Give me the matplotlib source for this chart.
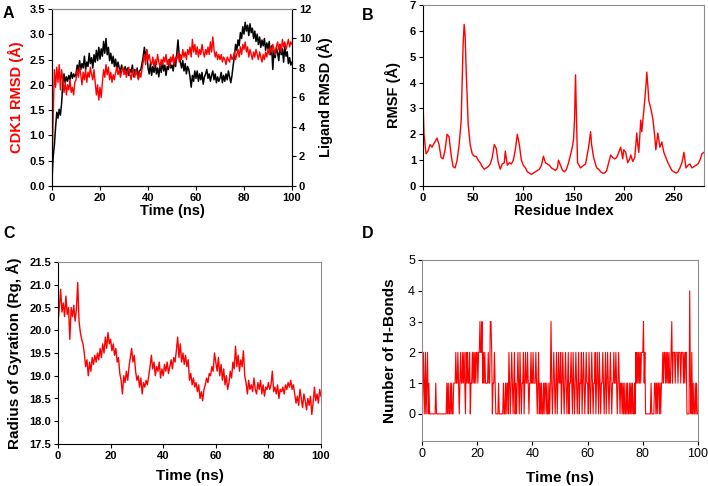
import numpy as np
import matplotlib
matplotlib.use("Agg")
import matplotlib.pyplot as plt

plt.rcParams['font.family'] = ['Liberation Sans', 'DejaVu Sans']

# ---------------- Panel A data (0.5 ns steps) ----------------
cdk1_rmsd = [
    0.30, 1.40, 2.30, 1.95, 2.35, 2.05, 2.40, 1.90, 2.30, 2.10, 1.85, 2.05, 1.80, 2.00, 1.90, 2.10, 1.85, 1.95, 1.80, 2.05,
    2.10, 2.30, 2.15, 2.35, 2.20, 2.00, 2.25, 2.10, 2.30, 2.05, 2.25, 2.15, 2.35, 2.20, 2.10, 2.30, 2.05, 1.80, 2.00, 1.70,
    1.95, 1.75, 2.05, 2.30, 2.15, 2.40, 2.20, 2.35, 2.10, 2.25, 2.05, 2.20, 2.10, 2.25, 2.35, 2.20, 2.30, 2.15, 2.25, 2.35,
    2.20, 2.30, 2.15, 2.25, 2.35, 2.20, 2.10, 2.30, 2.25, 2.15, 2.30, 2.20, 2.10, 2.25, 2.15, 2.30, 2.45, 2.60, 2.40, 2.70,
    2.50, 2.60, 2.45, 2.40, 2.55, 2.35, 2.50, 2.40, 2.60, 2.45, 2.35, 2.50, 2.40, 2.55, 2.45, 2.60, 2.40, 2.50, 2.35, 2.55,
    2.45, 2.60, 2.40, 2.55, 2.50, 2.65, 2.45, 2.60, 2.50, 2.70, 2.55, 2.65, 2.50, 2.70, 2.60, 2.75, 2.55, 2.90, 2.65, 2.80,
    2.60, 2.75, 2.55, 2.70, 2.60, 2.80, 2.65, 2.55, 2.70, 2.60, 2.75, 2.60, 2.85, 2.65, 2.95, 2.70, 2.55, 2.65, 2.50, 2.60,
    2.50, 2.60, 2.45, 2.55, 2.50, 2.40, 2.55, 2.50, 2.45, 2.60, 2.50, 2.55, 2.65, 2.50, 2.60, 2.70, 2.55, 2.75, 2.60, 2.80,
    2.70, 2.85, 2.65, 2.75, 2.55, 2.70, 2.60, 2.50, 2.65, 2.55, 2.70, 2.60, 2.50, 2.65, 2.55, 2.45, 2.60, 2.50, 2.65, 2.55,
    2.70, 2.60, 2.75, 2.65, 2.80, 2.70, 2.60, 2.75, 2.85, 2.70, 2.80, 2.65, 2.90, 2.75, 2.85, 2.70, 2.80, 2.90, 2.75, 2.85,
    2.80]
ligand_rmsd = [
    0.5, 2.0, 2.8, 4.0, 5.0, 4.6, 5.2, 4.8, 5.6, 7.0, 7.6, 7.0, 7.4, 7.1, 7.5, 7.2, 7.7, 7.3, 7.6, 7.4,
    7.6, 8.2, 7.8, 8.5, 7.9, 8.3, 8.0, 8.8, 7.9, 8.4, 8.1, 9.0, 8.3, 8.7, 8.0, 8.9, 8.4, 9.2, 8.5, 9.4,
    8.6, 9.3, 8.8, 9.8, 9.0, 10.0, 8.9, 9.4, 8.5, 9.0, 8.3, 8.8, 8.1, 8.6, 7.9, 8.4, 8.0, 7.7, 8.2, 7.9,
    7.8, 8.1, 7.6, 8.0, 7.5, 7.9, 7.7, 8.2, 7.4, 7.9, 7.6, 8.0, 7.3, 7.8, 7.9, 8.3, 8.8, 9.4, 8.7, 9.2,
    8.0, 7.6, 8.3, 7.5, 8.1, 7.7, 8.4, 7.6, 8.0, 7.4, 8.2, 7.7, 8.5, 7.8, 8.2, 7.5, 8.1, 7.9, 8.6, 8.0,
    8.2, 7.8, 8.6, 8.1, 9.0, 9.9, 8.8, 8.4, 8.0, 8.5, 7.8, 8.3, 7.6, 8.1, 7.9, 7.4, 6.7, 7.5, 7.1, 7.8,
    7.3, 7.8, 7.1, 7.6, 7.2, 7.7, 6.9, 7.4, 7.6, 7.9, 7.3, 7.6, 7.1, 7.5, 7.8, 7.2, 7.6, 7.0, 7.4, 7.1,
    7.3, 7.7, 7.0, 7.5, 7.1, 7.6, 7.2, 7.8, 7.4, 7.0, 7.5, 8.2, 8.8, 9.6, 9.2, 9.9, 9.5, 10.4, 10.0, 10.8,
    10.3, 11.1, 10.5, 10.9, 10.2, 11.0, 10.4, 10.7, 10.0, 10.5, 9.8, 10.3, 9.6, 10.1, 9.4, 9.9, 9.5, 10.0, 9.2, 9.7,
    9.3, 9.8, 8.9, 9.5, 7.9, 9.2, 8.7, 9.4, 9.0, 8.5, 9.6, 8.9, 9.3, 8.4, 9.5, 8.8, 9.1, 8.3, 8.7, 8.2,
    8.4]

# ---------------- Panel B data ----------------
residue = [
    0, 1, 3, 5, 7, 9, 11, 14, 16, 18,
    20, 22, 24, 26, 28, 30, 32, 34, 36, 38,
    40, 41, 42, 43, 45, 47, 49, 51, 53, 55,
    57, 59, 61, 63, 65, 67, 69, 71, 73, 75,
    77, 79, 81, 82, 84, 86, 88, 90, 92, 94,
    96, 98, 100, 102, 104, 106, 108, 110, 112, 114,
    116, 118, 120, 122, 124, 126, 128, 130, 132, 134,
    135, 137, 139, 141, 143, 145, 147, 149, 150, 151,
    152, 153, 154, 157, 160, 162, 165, 167, 168, 170,
    173, 175, 177, 179, 181, 183, 185, 187, 189, 191,
    193, 195, 197, 199, 200, 202, 204, 206, 207, 209,
    211, 213, 214, 215, 217, 218, 220, 222, 223, 224,
    225, 227, 229, 231, 232, 234, 236, 238, 240, 242,
    244, 246, 248, 250, 252, 254, 256, 258, 260, 262,
    264, 266, 268, 270, 272, 274, 276, 278, 280]
rmsf = [
    3.25, 2.0, 1.25, 1.35, 1.6, 1.5, 1.65, 1.85, 1.6, 1.1,
    1.05, 1.4, 2.0, 1.9, 1.2, 0.75, 0.7, 1.0, 1.6, 2.5,
    5.5, 6.25, 5.8, 4.5, 2.4, 1.6, 1.25, 1.15, 1.15, 1.0,
    0.9, 0.75, 0.65, 0.7, 0.75, 0.85, 1.1, 1.6, 1.45, 0.9,
    0.65, 0.85, 0.9, 1.35, 0.8, 0.9, 0.85, 1.0, 1.4, 2.0,
    1.6, 1.0, 0.8, 0.7, 0.55, 0.5, 0.45, 0.5, 0.55, 0.6,
    0.65, 0.8, 1.15, 0.9, 0.85, 0.8, 0.7, 0.65, 0.6, 0.7,
    1.0, 0.8, 0.6, 0.55, 0.65, 0.9, 1.2, 1.55, 1.8, 2.6,
    4.3, 2.5, 0.9, 0.7, 0.8, 0.85, 1.5, 2.1, 1.6, 1.1,
    0.7, 0.65, 0.55, 0.5, 0.5, 0.6, 0.9, 1.2, 1.1, 1.05,
    1.1, 1.3, 1.5, 1.05, 1.4, 1.3, 0.9, 1.05, 1.2, 0.95,
    1.1, 2.05, 1.6, 1.3, 2.55, 2.1, 2.9, 3.8, 4.4, 3.9,
    3.3, 3.0, 2.6, 1.9, 1.4, 2.05, 1.5, 1.7, 1.3, 1.1,
    0.9, 0.75, 0.6, 0.55, 0.5, 0.55, 0.7, 0.9, 1.3, 0.7,
    0.8, 0.85, 0.7, 0.75, 0.8, 0.85, 1.0, 1.25, 1.3]

# ---------------- Panel C data (0.5 ns steps) ----------------
rg = [
    20.15, 20.5, 20.9, 20.4, 20.6, 20.3, 20.75, 20.35, 20.5, 19.8, 20.5, 20.3, 20.55, 20.2, 20.45, 21.05, 20.2, 19.95, 19.8, 19.7,
    19.5, 19.2, 19.35, 19.0, 19.3, 19.1, 19.4, 19.25, 19.45, 19.3, 19.5, 19.35, 19.6, 19.4, 19.7, 19.5, 19.85, 19.6, 19.95, 19.7,
    19.8, 19.55, 19.7, 19.45, 19.6, 19.3, 19.4, 19.05, 18.9, 18.6, 19.0, 18.85, 19.1, 18.9, 19.2, 19.4, 19.6, 19.3, 19.45, 19.1,
    18.9, 19.0, 18.75, 18.95, 18.6, 18.85, 18.75, 18.9, 18.8, 19.0, 19.2, 19.45, 19.15, 19.3, 19.0, 19.2, 19.1, 19.3, 18.95, 19.15,
    19.0, 19.25, 19.1, 19.3, 19.05, 19.2, 19.35, 19.15, 19.4, 19.3, 19.55, 19.85, 19.4, 19.7, 19.3, 19.5, 19.25, 19.45, 19.2, 19.35,
    18.9, 19.05, 18.8, 18.95, 18.75, 18.85, 18.65, 18.8, 18.5, 18.65, 18.45, 18.7, 18.8, 18.95, 18.85, 19.05, 19.0, 19.2, 19.1, 19.5,
    19.3, 19.1, 19.4, 19.0, 19.25, 18.9, 19.15, 18.8, 19.0, 18.7, 18.85, 19.1, 18.95, 19.3, 19.15, 19.65, 19.2, 19.45, 19.1, 19.35,
    19.2, 19.55, 19.0, 18.85, 18.6, 18.9, 18.7, 18.8, 18.65, 18.95, 18.7, 18.6, 18.85, 18.7, 18.9, 18.6, 18.8, 18.55, 18.75, 18.7,
    18.85, 18.7, 18.8, 19.1, 18.65, 18.75, 18.6, 18.8, 18.5, 18.7, 18.65, 18.75, 18.6, 18.8, 18.7, 18.85, 18.75, 18.9, 18.7, 18.8,
    18.6, 18.4, 18.55, 18.35, 18.7, 18.5, 18.3, 18.6, 18.45, 18.25, 18.5, 18.35, 18.55, 18.15, 18.4, 18.75, 18.45, 18.6, 18.4, 18.7,
    18.55]

# ---------------- Panel D data (0.25 ns steps, digits = H-bond count) ----------------
hbond_digits = (
    "202102012010" "00000000" "10" "00000000000000" "1010"
    "01010011" "12112101211212102121120112121212"
    "2122" "32" "2312" "12111121" "1332" "01" "1210" "000100000010"
    "0101" "1021012101201012102101120121" "12101121"
    "1211121012" "01010010110100101310" "1210120121"
    "1201210121012011210210121012011201210121"
    "1021012101120121021011210120121012101121"
    "121012101101" "010010100101010010" "2121212122"
    "2312" "000000001000011010110101" "121221212121"
    "1231" "22212221222122212122" "0000" "4" "10201001010" "0"
)
hbonds = [int(c) for c in hbond_digits]

RED = "#ff0000"
GRAY = "#8c8c8c"

fig = plt.figure(figsize=(7.08, 4.86), dpi=100)
W, H = 708, 486

def add_axes(l, t, r, b):
    return fig.add_axes([l / W, 1 - b / H, (r - l) / W, (b - t) / H])

def style(ax, bold_ticks=True, gray=("top", "right"), size=8):
    for s in ax.spines.values():
        s.set_linewidth(0.8)
    for s in gray:
        ax.spines[s].set_color(GRAY)
    ax.tick_params(direction="out", length=3, width=0.8, labelsize=size, pad=2)
    if bold_ticks:
        for lab in ax.get_xticklabels() + ax.get_yticklabels():
            lab.set_fontweight("bold")

LBL = dict(fontsize=10.5, fontweight="bold")

# Panel A
axA = add_axes(52, 9, 292, 186)
tA = np.linspace(0, 100, len(cdk1_rmsd))
tL = np.linspace(0, 100, len(ligand_rmsd))
axB2 = axA.twinx()
axA.set_zorder(axB2.get_zorder() + 1)
axA.patch.set_visible(False)
axB2.plot(tL, ligand_rmsd, color="black", lw=1.1)
axA.plot(tA, cdk1_rmsd, color=RED, lw=1.0)
axA.set_xlim(0, 100)
axA.set_ylim(0, 3.5)
axA.set_yticks(np.arange(0, 3.51, 0.5))
axA.set_yticklabels([f"{v:.1f}" for v in np.arange(0, 3.51, 0.5)])
axA.set_xticks([0, 20, 40, 60, 80, 100])
axB2.set_ylim(0, 12)
axB2.set_yticks(range(0, 13, 2))
style(axA, gray=("top",))
style(axB2, gray=("top",))
axA.set_xlabel("Time (ns)", labelpad=1, **LBL)
axA.set_ylabel("CDK1 RMSD (Å)", color=RED, labelpad=4, **LBL)
axB2.set_ylabel("Ligand RMSD (Å)", color="black", labelpad=4, **LBL)

# Panel B
axB = add_axes(423, 5, 704, 186)
axB.plot(residue, rmsf, color=RED, lw=1.0)
axB.set_xlim(0, 280)
axB.set_ylim(0, 7)
axB.set_xticks([0, 50, 100, 150, 200, 250])
axB.set_yticks(range(0, 8))
style(axB)
axB.set_xlabel("Residue Index", labelpad=1, **LBL)
axB.set_ylabel("RMSF (Å)", labelpad=6, **LBL)

# Panel C
axC = add_axes(58, 262, 321, 444)
tC = np.linspace(0, 100, len(rg))
axC.plot(tC, rg, color=RED, lw=1.0)
axC.set_xlim(0, 100)
axC.set_ylim(17.5, 21.5)
yc = np.arange(17.5, 21.51, 0.5)
axC.set_yticks(yc)
axC.set_yticklabels([f"{v:.1f}" for v in yc])
axC.set_xticks([0, 20, 40, 60, 80, 100])
style(axC)
axC.set_xlabel("Time (ns)", labelpad=6, fontsize=11, fontweight="bold")
axC.set_ylabel("Radius of Gyration (Rg, Å)", labelpad=5, fontsize=11, fontweight="bold")

# Panel D
axD = add_axes(422, 260, 698, 441)
tD = np.linspace(0, 100, len(hbonds))
axD.plot(tD, hbonds, color=RED, lw=0.8)
axD.set_xlim(0, 100)
axD.set_ylim(-0.88, 5)
axD.set_yticks(range(0, 6))
axD.set_xticks([0, 20, 40, 60, 80, 100])
style(axD, bold_ticks=False, gray=("top", "right", "left", "bottom"), size=9)
axD.set_xlabel("Time (ns)", labelpad=8, fontsize=11, fontweight="bold")
axD.set_ylabel("Number of H-Bonds", labelpad=8, fontsize=11, fontweight="bold")

# Panel letters
for x, y, s in [(3, 13, "A"), (362, 16, "B"), (3, 233, "C"), (362, 233, "D")]:
    fig.text(x / W, 1 - y / H, s, fontsize=11.5, fontweight="bold", va="center", ha="left")

fig.savefig("out.png", dpi=100)
